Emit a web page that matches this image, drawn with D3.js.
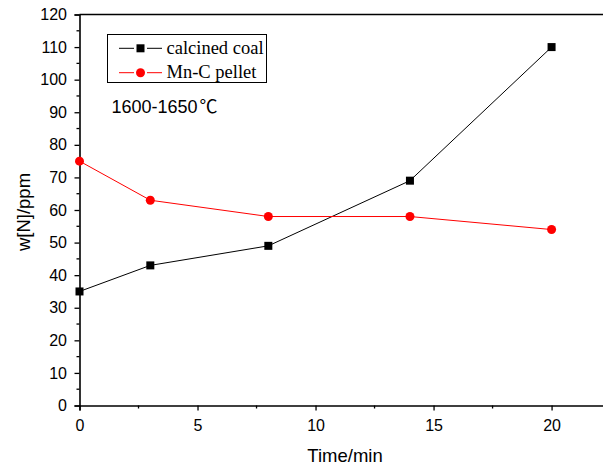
<!DOCTYPE html>
<html>
<head>
<meta charset="utf-8">
<script src="https://cdn.jsdelivr.net/npm/d3@7"></script>
<style>
  html, body { margin: 0; padding: 0; background: #fff; }
  svg { display: block; }
</style>
</head>
<body>
<svg id="chart" width="603" height="473"></svg>
<script>
// Nitrogen content over time at 1600-1650 ℃
const times = [0, 3, 8, 14, 20];
const coalValues = [35, 43, 49, 69, 110];
const pelletValues = [75, 63, 58, 58, 54];
const seriesNames = ["calcined coal", "Mn-C pellet"];
const xTicks = [0, 5, 10, 15, 20];
const yTicks = [0, 10, 20, 30, 40, 50, 60, 70, 80, 90, 100, 110, 120];
const xDomain = [0, 22.2];
const yDomain = [0, 120];

const svg = d3.select("#chart");
const plotLeft = 79.5, plotRight = 603.5, plotTop = 14.5, plotBottom = 405.5;
const sans = "Liberation Sans, Arial, sans-serif";
const serif = "Liberation Serif, Times New Roman, serif";

const x = d3.scaleLinear().domain(xDomain).range([plotLeft, plotRight]);
const y = d3.scaleLinear().domain(yDomain).range([plotBottom, plotTop]);

// Axes: major ticks with labels, minor ticks between
const xAxis = d3.axisBottom(x).tickValues(xTicks).tickSize(5).tickPadding(9.5).tickFormat(d3.format("d"));
const yAxis = d3.axisLeft(y).tickValues(yTicks).tickSize(5).tickPadding(7.5).tickFormat(d3.format("d"));

const gx = svg.append("g").attr("transform", `translate(0,${plotBottom})`).call(xAxis);
const gy = svg.append("g").attr("transform", `translate(${plotLeft},0)`).call(yAxis);

[gx, gy].forEach(g => {
  g.select(".domain").attr("stroke", "#000").attr("stroke-width", 1.6);
  g.selectAll(".tick line").attr("stroke", "#000").attr("stroke-width", 1.3);
  g.selectAll(".tick text").attr("fill", "#000")
    .style("font-family", sans).style("font-size", "16px");
});

const xMinor = d3.range(2.5, 22, 5);
const yMinor = d3.range(5, 120, 10);
svg.append("g").selectAll("line").data(xMinor).join("line")
  .attr("x1", d => x(d)).attr("x2", d => x(d))
  .attr("y1", plotBottom).attr("y2", plotBottom + 3)
  .attr("stroke", "#000").attr("stroke-width", 1.3);
svg.append("g").selectAll("line").data(yMinor).join("line")
  .attr("x1", plotLeft - 3).attr("x2", plotLeft)
  .attr("y1", d => y(d)).attr("y2", d => y(d))
  .attr("stroke", "#000").attr("stroke-width", 1.3);

// Top frame line
svg.append("line").attr("x1", plotLeft).attr("x2", plotRight).attr("y1", plotTop).attr("y2", plotTop)
  .attr("stroke", "#000").attr("stroke-width", 1.6);

// Axis titles
svg.append("text").attr("x", 345).attr("y", 461.5).attr("text-anchor", "middle")
  .style("font-family", sans).style("font-size", "18.5px")
  .text("Time/min");
svg.append("text").attr("transform", "translate(29.5,212) rotate(-90)").attr("text-anchor", "middle")
  .style("font-family", sans).style("font-size", "18.5px")
  .text("w[N]/ppm");

// Series
const line = d3.line().x(d => x(d[0])).y(d => y(d[1]));
const coal = times.map((t, i) => [t, coalValues[i]]);
const pellet = times.map((t, i) => [t, pelletValues[i]]);

svg.append("path").datum(coal).attr("d", line).attr("fill", "none")
  .attr("stroke", "#000").attr("stroke-width", 1);
svg.append("path").datum(pellet).attr("d", line).attr("fill", "none")
  .attr("stroke", "#ff0000").attr("stroke-width", 1);

const sq = 8;
svg.append("g").selectAll("rect").data(coal).join("rect")
  .attr("x", d => x(d[0]) - sq / 2).attr("y", d => y(d[1]) - sq / 2)
  .attr("width", sq).attr("height", sq).attr("fill", "#000");
svg.append("g").selectAll("circle").data(pellet).join("circle")
  .attr("cx", d => x(d[0])).attr("cy", d => y(d[1])).attr("r", 4.5)
  .attr("fill", "#ff0000");

// Legend
const legend = svg.append("g");
legend.append("rect").attr("x", 107.5).attr("y", 34.5).attr("width", 159).attr("height", 48)
  .attr("fill", "#fff").attr("stroke", "#000").attr("stroke-width", 1);
const rows = [
  { name: seriesNames[0], color: "#000", shape: "square", yy: 48.3 },
  { name: seriesNames[1], color: "#ff0000", shape: "circle", yy: 72.7 }
];
rows.forEach(r => {
  legend.append("line").attr("x1", 119).attr("x2", 134).attr("y1", r.yy).attr("y2", r.yy)
    .attr("stroke", r.color).attr("stroke-width", 1);
  legend.append("line").attr("x1", 147).attr("x2", 162).attr("y1", r.yy).attr("y2", r.yy)
    .attr("stroke", r.color).attr("stroke-width", 1);
  if (r.shape === "square") {
    legend.append("rect").attr("x", 140.5 - sq / 2).attr("y", r.yy - sq / 2)
      .attr("width", sq).attr("height", sq).attr("fill", r.color);
  } else {
    legend.append("circle").attr("cx", 140.5).attr("cy", r.yy).attr("r", 4.5).attr("fill", r.color);
  }
  legend.append("text").attr("x", 166.5).attr("y", r.yy + 5.5)
    .style("font-family", serif).style("font-size", "18.5px")
    .text(r.name);
});

// Temperature annotation
const note = svg.append("text").attr("x", 111.5).attr("y", 113)
  .style("font-family", sans).style("font-size", "18px");
note.append("tspan").text("1600-1650");
note.append("tspan").attr("dx", 2).style("font-family", "Noto Sans CJK SC, sans-serif")
  .style("font-size", "18px").text("℃");
</script>
</body>
</html>
